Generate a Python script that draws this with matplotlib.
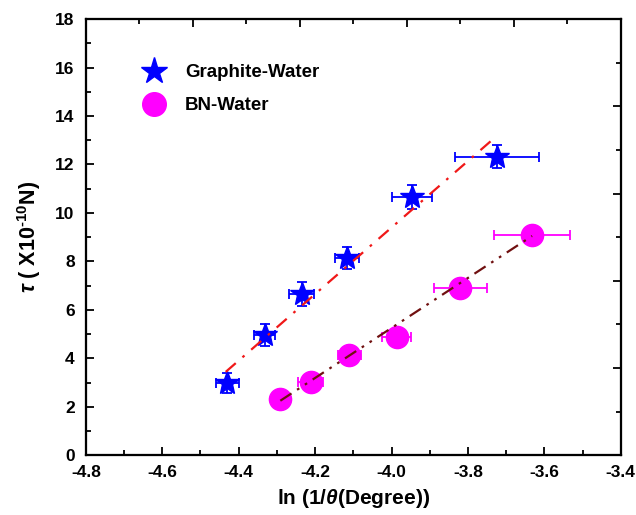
import numpy as np
import matplotlib
matplotlib.use('Agg')
import matplotlib.pyplot as plt
from matplotlib.lines import Line2D
from matplotlib.ticker import MultipleLocator, FormatStrFormatter

plt.rcParams['font.family'] = ['Liberation Sans', 'DejaVu Sans']
plt.rcParams['font.weight'] = 'bold'
plt.rcParams['axes.unicode_minus'] = False
plt.rcParams['mathtext.fontset'] = 'custom'
plt.rcParams['mathtext.rm'] = 'Liberation Sans:bold'
plt.rcParams['mathtext.it'] = 'Liberation Sans:italic'
plt.rcParams['mathtext.bf'] = 'Liberation Sans:bold'

# Graphite-Water
gw_x = [-4.430, -4.332, -4.235, -4.117, -3.946, -3.725]
gw_y = [2.98, 4.97, 6.65, 8.15, 10.66, 12.32]
gw_xerr = [0.030, 0.027, 0.032, 0.032, 0.052, 0.110]
gw_yerr = [0.42, 0.45, 0.50, 0.45, 0.50, 0.48]
gw_fit_x = [-4.434, -3.725]
gw_fit_y = [3.44, 13.17]

# BN-Water
bn_x = [-4.291, -4.212, -4.111, -3.986, -3.820, -3.632]
bn_y = [2.32, 3.03, 4.15, 4.88, 6.90, 9.08]
bn_xerr = [0.012, 0.032, 0.030, 0.038, 0.070, 0.100]
bn_yerr = [0.20, 0.20, 0.20, 0.20, 0.20, 0.20]
bn_fit_x = [-4.291, -3.632]
bn_fit_y = [2.25, 9.05]

fig = plt.figure(figsize=(6.36, 5.15), dpi=100)
ax = fig.add_axes([0.135, 0.116, 0.841, 0.847])

# error bars + markers
ax.errorbar(gw_x, gw_y, xerr=gw_xerr, yerr=gw_yerr, fmt='*', color='#0000ff',
            ms=18, mec='#0000ff', elinewidth=1.3, capsize=3.5, capthick=1.3, zorder=3)
ax.errorbar(bn_x, bn_y, xerr=bn_xerr, yerr=bn_yerr, fmt='o', color='#ff00ff',
            ms=16, mec='#ff00ff', elinewidth=1.3, capsize=3.5, capthick=1.3, zorder=3)

# linear fits
ax.plot(gw_fit_x, gw_fit_y, color='#f01818', lw=1.6, ls=(0, (6, 4, 1.2, 4)), zorder=4)
ax.plot(bn_fit_x, bn_fit_y, color='#701010', lw=1.6, ls=(0, (6, 3, 1.2, 3, 1.2, 3)), zorder=4)

ax.set_xlim(-4.8, -3.4)
ax.set_ylim(0, 18)
ax.xaxis.set_major_locator(MultipleLocator(0.2))
ax.xaxis.set_minor_locator(MultipleLocator(0.1))
ax.xaxis.set_major_formatter(FormatStrFormatter('%.1f'))
ax.yaxis.set_major_locator(MultipleLocator(2))
ax.yaxis.set_minor_locator(MultipleLocator(1))
ax.tick_params(which='major', direction='in', length=6, width=1.3, labelsize=12.5)
ax.tick_params(axis='x', which='major', pad=7)
ax.tick_params(axis='y', which='major', pad=8)
ax.tick_params(which='minor', direction='in', length=3.5, width=1.3)
for s in ax.spines.values():
    s.set_linewidth(1.5)

# top and right axes with their own ticks
axt = ax.twiny()
axt.set_xlim(0, 1)
axt.xaxis.set_major_locator(MultipleLocator(0.2))
axt.xaxis.set_minor_locator(MultipleLocator(0.1))
axt.tick_params(which='major', direction='in', length=6, width=1.3, labeltop=False)
axt.tick_params(which='minor', direction='in', length=3.5, width=1.3)
axr = ax.twinx()
axr.set_ylim(0, 1)
axr.yaxis.set_major_locator(MultipleLocator(0.2))
axr.yaxis.set_minor_locator(MultipleLocator(0.1))
axr.tick_params(which='major', direction='in', length=6, width=1.3, labelright=False)
axr.tick_params(which='minor', direction='in', length=3.5, width=1.3)
for a in (axt, axr):
    for s in a.spines.values():
        s.set_linewidth(1.5)

ax.set_xlabel(r'ln (1/$\mathit{\theta}$(Degree))', fontsize=15, fontweight='bold', labelpad=5)
ax.set_ylabel(r'$\mathit{\tau}$ ( X10$^{\text{-10}}$N)', fontsize=15.5, fontweight='bold', labelpad=9)

handles = [Line2D([], [], ls='none', marker='*', ms=20, color='#0000ff'),
           Line2D([], [], ls='none', marker='o', ms=17, color='#ff00ff')]
leg = axr.legend(handles, ['Graphite-Water', 'BN-Water'], loc='upper left',
                 bbox_to_anchor=(0.07, 0.935), frameon=False, fontsize=13.5,
                 handletextpad=0.9, labelspacing=0.85, handlelength=1.5)

fig.savefig('out.png', dpi=100)
